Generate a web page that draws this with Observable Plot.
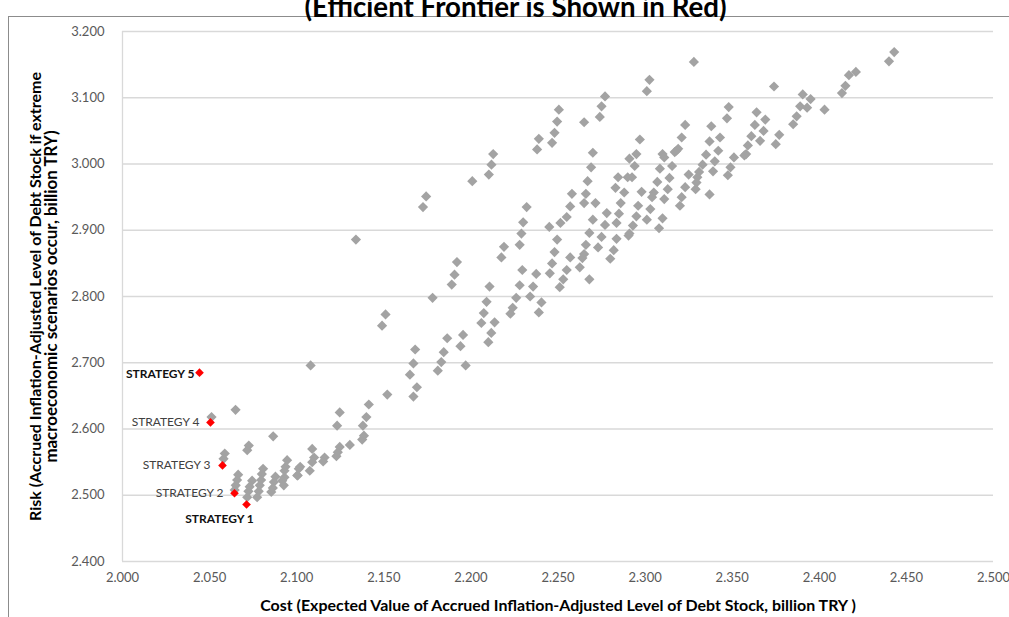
<!DOCTYPE html>
<html><head><meta charset="utf-8">
<script src="https://cdn.jsdelivr.net/npm/d3@7"></script>
<script src="https://cdn.jsdelivr.net/npm/@observablehq/plot@0.6"></script>
<style>
html,body{margin:0;padding:0;background:#fff;overflow:hidden;width:1009px;height:617px}
#frame{position:absolute;left:8px;top:16px;width:1100px;height:700px;border-left:1px solid #8c8c8c;border-top:1px solid #8c8c8c;box-sizing:border-box}
#chart{position:absolute;left:0;top:0}
</style></head><body>
<div id="frame"></div>
<div id="chart"></div>
<script>
// ---- data ----
const titleText = "(Efficient Frontier is Shown in Red)";
const xTitle = "Cost (Expected Value of Accrued Inflation-Adjusted Level of Debt Stock, billion TRY )";
const yTitle1 = "Risk (Accrued Inflation-Adjusted Level of Debt Stock if extreme";
const yTitle2 = "macroeconomic scenarios occur, billion TRY)";
const xTicks = [2.000, 2.050, 2.100, 2.150, 2.200, 2.250, 2.300, 2.350, 2.400, 2.450, 2.500];
const yTicks = [2.400, 2.500, 2.600, 2.700, 2.800, 2.900, 3.000, 3.100, 3.200];

const strategyNames = ["STRATEGY 1", "STRATEGY 2", "STRATEGY 3", "STRATEGY 4", "STRATEGY 5"];
const strategyCost = [2.0712, 2.0643, 2.0574, 2.0505, 2.0442];
const strategyRisk = [2.486, 2.503, 2.545, 2.610, 2.685];

// [cost, risk] of the other simulated strategies
const otherStrategies = [
  [2.443,3.169],[2.440,3.155],[2.421,3.139],[2.417,3.134],[2.415,3.118],[2.413,3.107],
  [2.403,3.082],[2.395,3.098],[2.393,3.085],[2.3905,3.105],[2.389,3.087],[2.387,3.072],
  [2.385,3.060],[2.377,3.044],[2.375,3.030],[2.374,3.117],[2.369,3.067],[2.368,3.050],
  [2.366,3.035],[2.364,3.078],[2.363,3.059],[2.361,3.042],[2.359,3.028],[2.358,3.015],
  [2.357,3.013],[2.351,3.010],[2.349,2.995],[2.3475,2.983],[2.348,3.086],[2.347,3.069],
  [2.343,3.040],[2.342,3.020],[2.340,3.004],[2.339,2.989],[2.337,2.954],[2.338,3.057],
  [2.337,3.034],[2.335,3.014],[2.333,2.999],[2.331,2.988],[2.330,2.980],[2.3295,2.972],
  [2.329,2.962],[2.328,3.154],[2.325,2.984],[2.323,3.059],[2.321,3.040],[2.323,2.965],
  [2.321,2.950],[2.320,2.937],[2.319,3.023],[2.318,3.020],[2.317,3.018],[2.3155,2.997],
  [2.314,2.979],[2.313,2.962],[2.311,2.947],[2.310,2.918],[2.308,2.903],[2.310,3.015],
  [2.311,3.010],[2.3085,2.993],[2.307,2.973],[2.305,2.957],[2.304,2.950],[2.303,2.932],
  [2.301,2.916],[2.3025,3.127],[2.301,3.110],[2.297,3.037],[2.295,3.015],[2.294,2.997],
  [2.291,3.008],[2.2925,2.980],[2.290,2.980],[2.2845,2.980],[2.283,2.964],[2.288,2.957],
  [2.286,2.941],[2.298,2.958],[2.296,2.937],[2.295,2.921],[2.293,2.907],[2.291,2.895],
  [2.2905,2.892],[2.285,2.925],[2.2836,2.911],[2.2836,2.887],[2.282,2.870],[2.280,2.857],
  [2.278,2.926],[2.277,2.908],[2.275,2.890],[2.273,2.874],[2.277,3.102],[2.275,3.087],
  [2.274,3.071],[2.270,3.017],[2.269,2.995],[2.267,2.974],[2.266,2.955],[2.265,2.941],
  [2.2715,2.941],[2.270,2.916],[2.268,2.896],[2.266,2.878],[2.265,2.864],[2.264,2.858],
  [2.2625,2.844],[2.268,2.826],[2.265,3.063],[2.258,2.955],[2.257,2.936],[2.255,2.920],
  [2.2514,2.911],[2.245,2.905],[2.2495,2.886],[2.248,2.867],[2.2466,2.850],[2.2453,2.835],
  [2.255,2.840],[2.253,2.826],[2.251,2.814],[2.257,2.859],[2.2505,3.082],[2.2495,3.064],
  [2.248,3.047],[2.2466,3.032],[2.239,3.038],[2.238,3.022],[2.232,2.935],[2.230,2.912],
  [2.229,2.895],[2.228,2.878],[2.2295,2.840],[2.2375,2.834],[2.2357,2.815],[2.234,2.800],
  [2.228,2.817],[2.226,2.798],[2.224,2.783],[2.2227,2.774],[2.2405,2.791],[2.239,2.776],
  [2.219,2.875],[2.2175,2.859],
  [2.192,2.852],[2.1906,2.833],[2.189,2.818],[2.178,2.798],[2.151,2.773],[2.149,2.756],
  [2.108,2.696],[2.2107,2.815],[2.209,2.792],[2.2074,2.775],[2.206,2.760],[2.2136,2.761],
  [2.2117,2.745],[2.210,2.731],[2.1955,2.742],[2.194,2.725],[2.197,2.696],[2.1864,2.737],
  [2.1844,2.716],[2.183,2.701],[2.181,2.688],[2.168,2.720],[2.167,2.699],[2.165,2.682],
  [2.169,2.663],[2.167,2.649],[2.152,2.652],[2.1414,2.637],[2.140,2.618],[2.138,2.605],
  [2.1386,2.590],[2.1376,2.584],[2.1247,2.625],[2.1232,2.605],[2.1305,2.576],[2.1247,2.573],
  [2.1236,2.565],[2.1228,2.559],[2.116,2.557],[2.1152,2.551],[2.1089,2.570],[2.110,2.557],
  [2.1089,2.550],[2.1075,2.537],[2.102,2.543],[2.1006,2.530],[2.0945,2.553],[2.0936,2.543],
  [2.093,2.527],[2.0926,2.515],[2.2128,3.015],[2.2118,2.999],[2.2103,2.984],[2.2008,2.974],
  [2.1743,2.951],[2.1725,2.935],[2.134,2.886],
  [2.0649,2.629],[2.0511,2.618],[2.0865,2.589],[2.0725,2.575],[2.0716,2.568],[2.0587,2.563],
  [2.058,2.555],[2.0664,2.531],[2.0658,2.523],[2.065,2.515],[2.0644,2.508],[2.0744,2.522],
  [2.073,2.513],[2.0723,2.506],[2.0716,2.497],[2.0807,2.540],[2.080,2.532],[2.0796,2.523],
  [2.0788,2.515],[2.0782,2.506],[2.0773,2.497],[2.0878,2.528],[2.0869,2.520],[2.0863,2.511],
  [2.0854,2.505],[2.093,2.537],[2.0917,2.522],[2.1012,2.540],[2.1003,2.530]
];

// ---- build ----
const others = otherStrategies.map(([c, r]) => ({cost: c, risk: r}));
const strategies = strategyNames.map((n, i) => ({name: n, cost: strategyCost[i], risk: strategyRisk[i], i}));

const ctx = document.createElement("canvas").getContext("2d");
function fit(text, weight, target) {
  ctx.font = `${weight} 100px Lato`;
  return 100 * target / ctx.measureText(text).width;
}
const fmt = d3.format(".3f");
const font = "Lato";

const labelOffsets = [
  {dx: -27, dy: 15, anchor: "middle", bold: true},
  {dx: -11, dy: 0, anchor: "end", bold: false},
  {dx: -12, dy: 0, anchor: "end", bold: false},
  {dx: -11, dy: 0, anchor: "end", bold: false},
  {dx: -5, dy: 1, anchor: "end", bold: true}
];

const chart = Plot.plot({
  width: 1009,
  height: 617,
  marginLeft: 122,
  marginRight: 16,
  marginTop: 31,
  marginBottom: 56,
  style: {fontFamily: font, fontSize: "13px", background: "transparent", overflow: "visible"},
  x: {domain: [2.0, 2.5], ticks: xTicks, tickFormat: fmt, tickSize: 0, tickPadding: 11, label: null},
  y: {domain: [2.4, 3.2], ticks: yTicks, tickFormat: fmt, tickSize: 0, tickPadding: 18, label: null},
  marks: [
    Plot.ruleY(yTicks, {stroke: "#d9d9d9", strokeWidth: 1.3}),
    Plot.ruleX([2.0], {stroke: "#d9d9d9", strokeWidth: 1.3}),
    Plot.dot(others, {x: "cost", y: "risk", symbol: "diamond2", r: 4.6, fill: "#a3a3a3", stroke: null}),
    Plot.dot(strategies, {x: "cost", y: "risk", symbol: "diamond2", r: 3.9, fill: "#ff0000", stroke: null}),
    ...labelOffsets.map((o, i) => Plot.text(strategies.filter(d => d.i === i), {
      x: "cost", y: "risk", text: "name", dx: o.dx, dy: o.dy, textAnchor: o.anchor,
      lineAnchor: "middle", fontSize: 12, fontWeight: o.bold ? "bold" : "normal",
      fill: o.bold ? "#111" : "#404040"
    })),
    Plot.text([xTitle], {text: d => d, frameAnchor: "bottom", dy: 44, lineAnchor: "middle", textAnchor: "middle",
      fontWeight: "bold", fontSize: fit(xTitle, "bold", 599), fill: "#000"}),
    Plot.text([yTitle1], {text: d => d, frameAnchor: "left", dx: -87, dy: 0, rotate: -90, lineAnchor: "middle", textAnchor: "middle",
      fontWeight: "bold", fontSize: fit(yTitle1, "bold", 450), fill: "#000"}),
    Plot.text([yTitle2], {text: d => d, frameAnchor: "left", dx: -71, dy: 0, rotate: -90, lineAnchor: "middle", textAnchor: "middle",
      fontWeight: "bold", fontSize: fit(yTitle2, "bold", 333), fill: "#000"}),
    Plot.text([titleText], {text: d => d, frameAnchor: "top", dx: 515 - 557.5, dy: -15, lineAnchor: "bottom", textAnchor: "middle",
      fontWeight: "bold", fontSize: fit(titleText, "bold", 423), fill: "#000"})
  ]
});
chart.querySelectorAll("g[aria-label='x-axis tick label'] text, g[aria-label='y-axis tick label'] text").forEach(t => t.setAttribute("fill", "#595959"));
chart.querySelectorAll("g[aria-label='x-axis tick label'], g[aria-label='y-axis tick label']").forEach(g => g.setAttribute("fill", "#595959"));
document.getElementById("chart").appendChild(chart);
</script>
</body></html>
